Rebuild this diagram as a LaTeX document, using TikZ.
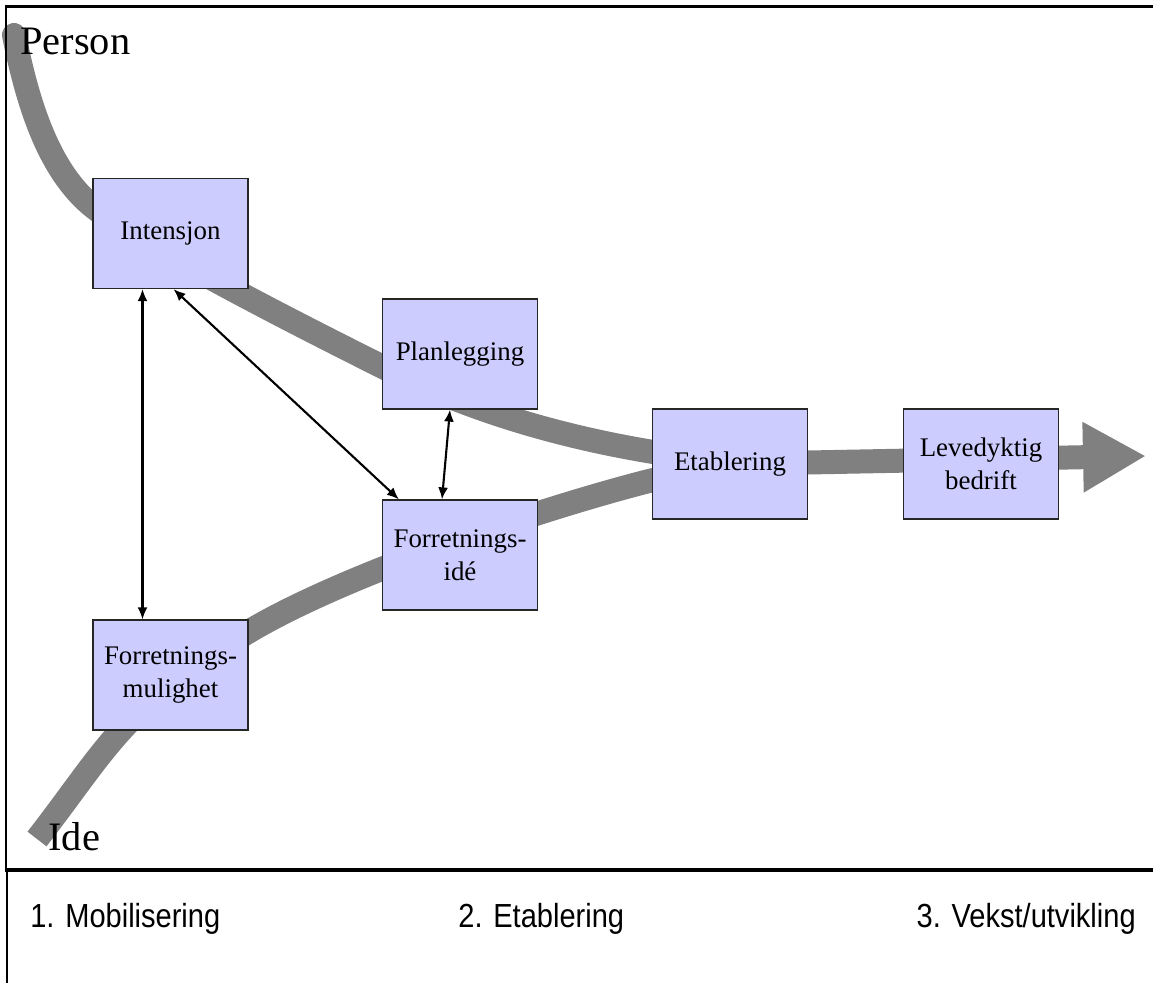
\documentclass[tikz,border=0pt]{standalone}
\usepackage{fontspec}
\setmainfont{Liberation Serif}
\newfontfamily\phasefont{Liberation Sans}
\usetikzlibrary{arrows.meta,calc}
\definecolor{boxblue}{RGB}{204,204,255}
\definecolor{bandgray}{RGB}{128,128,128}
\pgfdeclarelayer{bg}
\pgfsetlayers{bg,main}

\tikzset{
  stage/.style={draw=black!85, fill=boxblue, line width=0.7pt, minimum width=3.1cm, minimum height=2.2cm,
    align=center, inner sep=2pt, font=\fontsize{15.3}{18.5}\selectfont},
  band/.style={draw=bandgray, line width=0.48cm, line cap=round},
  link/.style={{Latex[length=2.4mm,width=2mm]}-{Latex[length=2.4mm,width=2mm]}, line width=1.2pt},
  phase/.style={inner sep=0pt, font=\phasefont\fontsize{19}{22}\selectfont},
  endlabel/.style={anchor=base west, inner sep=0pt, font=\fontsize{23}{26}\selectfont}
}

\begin{document}
\begin{tikzpicture}[x=0.02cm,y=-0.02cm]
\useasboundingbox (0,0) rectangle (1153,983);
% Frame
\draw[line width=0.06cm] (5,7) -- (1153,7);
\draw[line width=0.04cm] (6,7) -- (6,870);
\draw[line width=0.07cm] (5,870) -- (1153,870);
\draw[line width=0.03cm] (7,870) -- (7,983);

% Free ends of the bands
\coordinate (person) at (14,35);
\coordinate (ide) at (37,839);
\coordinate (tip) at (1146,456);

% Stages
\node[stage] (int) at (170.5,233.5) {Intensjon};
\node[stage] (plan) at (460,354) {Planlegging};
\node[stage] (etab) at (730,464) {Etablering};
\node[stage] (lev) at (981,464) {Levedyktig\\bedrift};
\node[stage] (fide) at (460,555) {Forretnings-\\idé};
\node[stage] (fmul) at (170.5,675) {Forretnings-\\mulighet};

% Bands behind the stages
\begin{pgfonlayer}{bg}
\draw[band] (person) .. controls (28,105) and (50,177) .. (100,212)
  .. controls (160,254) and (293,322) .. (383,367)
  .. controls (473,412) and (563,437) .. (653,452) -- (etab.center);
\draw[band, line cap=butt] (ide) .. controls (107,749) and (121,708) .. (248,632)
  .. controls (348,572) and (553,505) .. (653,480) -- (etab.center);
\draw[band, line cap=butt, -{Triangle[length=1.26cm,width=1.32cm]}] (etab.center) -- (tip);
\end{pgfonlayer}

% Links between stages
\draw[link] ($(int.south)+(-28,0)$) -- ($(fmul.north)+(-28,0)$);
\draw[link] ($(int.south)+(3,0)$) -- ($(fide.north west)+(17,0)$);
\draw[link] ($(plan.south)+(-10,0)$) -- ($(fide.north)+(-18,0)$);

% Labels
\node[endlabel] (personlbl) at (20,55) {Person};
\node[endlabel] (idelbl) at (48,850) {Ide};
\node[phase, anchor=base west] (ph1) at (30,927) {\scalebox{0.87}[1]{1. Mobilisering}};
\node[phase, anchor=base west] (ph2) at (458,927) {\scalebox{0.87}[1]{2. Etablering}};
\node[phase, anchor=base east] (ph3) at (1136,927) {\scalebox{0.87}[1]{3. Vekst/utvikling}};
\end{tikzpicture}
\end{document}
